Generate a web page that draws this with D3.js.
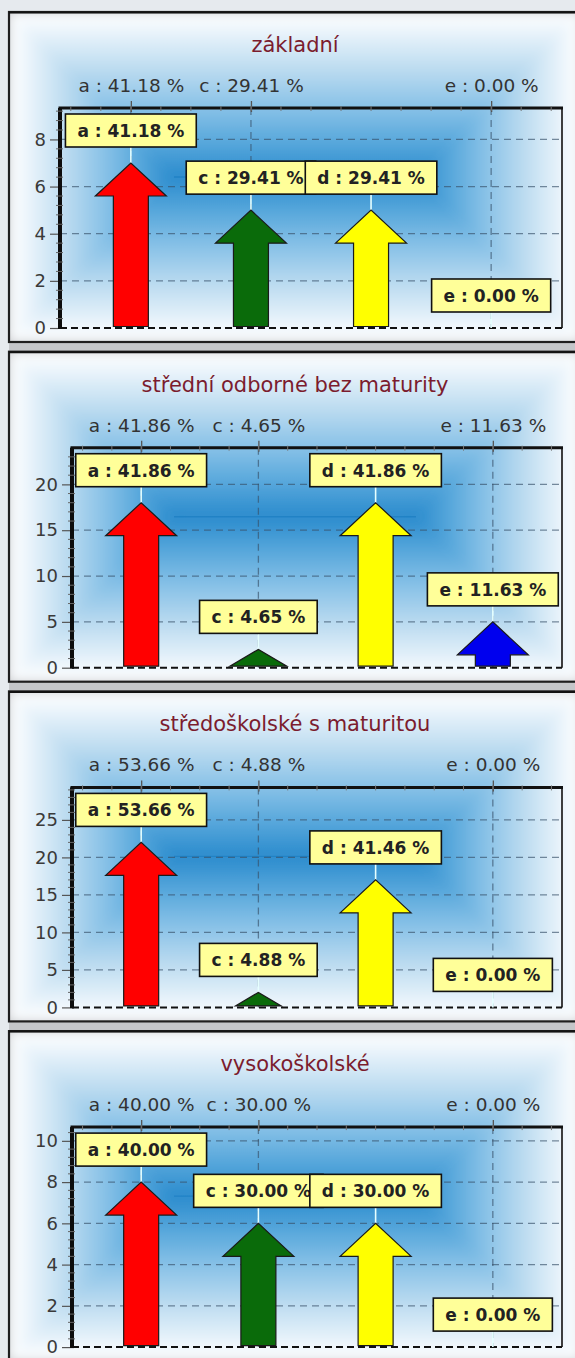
<!DOCTYPE html>
<html>
<head>
<meta charset="utf-8">
<script src="https://cdn.jsdelivr.net/npm/d3@7"></script>
<style>
  html, body { margin: 0; padding: 0; background: #e6eaee; }
  svg { display: block; }
</style>
</head>
<body>
<svg id="chart" width="575" height="1358"></svg>
<script>
// Education groups, one panel each
const panelTitles = [
  "základní",
  "střední odborné bez maturity",
  "středoškolské s maturitou",
  "vysokoškolské"
];
// Answer categories
const categories = ["a", "c", "d", "e"];
// Counts per answer, one row per panel
const countsBasic      = [7, 5, 5, 0];
const countsVocational = [18, 2, 18, 5];
const countsSecondary  = [22, 2, 17, 0];
const countsUniversity = [8, 6, 6, 0];
const panelCounts = [countsBasic, countsVocational, countsSecondary, countsUniversity];
// Arrow colours per answer
const arrowColors = ["#ff0000", "#0a6b0a", "#ffff00", "#0000ee"];
// Answers labelled on the top axis
const topAxisKeys = ["a", "c", "e"];

const svg = d3.select("#chart");
const defs = svg.append("defs");

const FONT = "'DejaVu Sans', Verdana, sans-serif";
const ctx = document.createElement("canvas").getContext("2d");
function textWidth(str, font) { ctx.font = font; return ctx.measureText(str).width; }

// Panel frame geometry
const panelX0 = 9, panelX1 = 581, panelH = 330, firstTop = 12, pitch = 339.7;
// Plot geometry inside a panel
const plotTop = 96, plotBottom = 316, plotRight = 562;

// Gradient stops from frame edge (0) to panel centre (1)
const bgStops = [
  [0, "#ffffff"], [0.1, "#eef6fc"], [0.35, "#bbdbf0"],
  [0.6, "#83bfe6"], [0.8, "#55a6db"], [1, "#2a8bcd"]
];

// soft blend for the background
const blur = defs.append("filter").attr("id", "soft")
  .attr("x", 0).attr("y", 0).attr("width", 1).attr("height", 1);
blur.append("feGaussianBlur").attr("stdDeviation", 6).attr("edgeMode", "duplicate");

// gray band between panels
svg.append("rect").attr("x", panelX0).attr("y", firstTop).attr("width", 575 - panelX0)
  .attr("height", 1358 - firstTop).attr("fill", "#c4c6c9");

panelCounts.forEach((counts, pi) => {
  const y0 = firstTop + pi * pitch;
  const g = svg.append("g").attr("transform", `translate(0,${y0})`);
  const total = d3.sum(counts);
  const pct = counts.map(c => (100 * c / total).toFixed(2) + " %");
  const labelOf = k => `${k} : ${pct[categories.indexOf(k)]}`;

  // ---- background: distance-to-edge blend, built from four trapezoids
  const w = panelX1 - panelX0, hh = panelH / 2, cy = hh;
  const x0 = panelX0, x1 = panelX1, yb = panelH;
  const parts = [
    { pts: [[x0,0],[x1,0],[x1-hh,cy],[x0+hh,cy]], g: [x0,0,x0,cy] },
    { pts: [[x0,yb],[x1,yb],[x1-hh,cy],[x0+hh,cy]], g: [x0,yb,x0,cy] },
    { pts: [[x0,0],[x0+hh,cy],[x0,yb]], g: [x0,0,x0+hh,0] },
    { pts: [[x1,0],[x1-hh,cy],[x1,yb]], g: [x1,0,x1-hh,0] }
  ];
  const bg = g.append("g").attr("filter", "url(#soft)");
  parts.forEach((p, i) => {
    const id = `bg${pi}_${i}`;
    const lg = defs.append("linearGradient").attr("id", id)
      .attr("gradientUnits", "userSpaceOnUse")
      .attr("x1", p.g[0]).attr("y1", p.g[1]).attr("x2", p.g[2]).attr("y2", p.g[3]);
    bgStops.forEach(s => lg.append("stop").attr("offset", s[0]).attr("stop-color", s[1]));
    bg.append("polygon").attr("points", p.pts.map(d => d.join(",")).join(" "))
      .attr("fill", `url(#${id})`).attr("stroke", `url(#${id})`).attr("stroke-width", 0.6);
  });
  // crease where the top and bottom blends meet
  g.append("line").attr("x1", x0 + hh).attr("x2", x1 - hh).attr("y1", cy).attr("y2", cy)
    .attr("stroke", "#1d7fc3").attr("stroke-width", 1.4).attr("opacity", 0.8);
  // frame
  g.append("rect").attr("x", panelX0).attr("y", 0).attr("width", w).attr("height", panelH)
    .attr("fill", "none").attr("stroke", "#1e1e1e").attr("stroke-width", 2.2);
  g.append("line").attr("x1", panelX0).attr("x2", panelX1).attr("y1", 0.5).attr("y2", 0.5)
    .attr("stroke", "#111").attr("stroke-width", 2);

  // ---- title
  g.append("text").attr("x", (panelX0 + panelX1) / 2).attr("y", 40)
    .attr("text-anchor", "middle").attr("font-family", FONT).attr("font-size", 21)
    .attr("fill", "#7b1c2e").text(panelTitles[pi]);

  // ---- scales
  const maxV = d3.max(counts);
  const y = d3.scaleLinear().domain([0, maxV * 4 / 3]).range([plotBottom, plotTop]);
  const yTicks = y.ticks(5);
  const tickFont = `18px ${FONT}`;
  const maxLabelW = d3.max(yTicks, t => textWidth(String(t), tickFont));
  const plotLeft = Math.round(37 + maxLabelW + 12);
  const x = d3.scalePoint().domain(categories).range([plotLeft, plotRight]).padding(0.59);

  // ---- grid
  const grid = g.append("g").attr("stroke", "rgba(55,80,105,0.65)").attr("stroke-width", 1.3)
    .attr("stroke-dasharray", "7,5");
  yTicks.filter(t => t > 0).forEach(t => {
    grid.append("line").attr("x1", plotLeft).attr("x2", plotRight).attr("y1", y(t)).attr("y2", y(t));
  });
  topAxisKeys.forEach(k => {
    grid.append("line").attr("x1", x(k)).attr("x2", x(k)).attr("y1", plotTop).attr("y2", plotBottom);
  });

  // ---- plot borders
  g.append("line").attr("x1", plotRight).attr("x2", plotRight).attr("y1", plotTop).attr("y2", plotBottom)
    .attr("stroke", "#2a2a2a").attr("stroke-width", 1.8);
  g.append("line").attr("x1", plotLeft).attr("x2", plotRight).attr("y1", plotBottom).attr("y2", plotBottom)
    .attr("stroke", "#111").attr("stroke-width", 2).attr("stroke-dasharray", "7,4");
  g.append("line").attr("x1", plotLeft - 1.5).attr("x2", plotRight + 1).attr("y1", plotTop).attr("y2", plotTop)
    .attr("stroke", "#111").attr("stroke-width", 3);
  g.append("line").attr("x1", plotLeft).attr("x2", plotLeft).attr("y1", plotTop).attr("y2", plotBottom + 1)
    .attr("stroke", "#0d0d0d").attr("stroke-width", 4);

  // ---- left axis
  const yAxis = g.append("g").attr("transform", `translate(${plotLeft - 2},0)`)
    .call(d3.axisLeft(y).tickValues(yTicks).tickSize(8).tickPadding(4));
  yAxis.select(".domain").remove();
  yAxis.selectAll(".tick line").attr("stroke", "#555").attr("stroke-width", 1.2);
  yAxis.selectAll(".tick text").attr("font-family", FONT).attr("font-size", 18).attr("fill", "#3a3a3a");
  // minor ticks, five per major step
  const ystep = yTicks[1] - yTicks[0];
  const yMinor = d3.range(0, y.domain()[1], ystep / 5).filter(v => Math.abs(v / ystep - Math.round(v / ystep)) > 1e-6);
  g.append("g").selectAll("line").data(yMinor).join("line")
    .attr("x1", plotLeft - 4).attr("x2", plotLeft + 3).attr("y1", d => y(d)).attr("y2", d => y(d))
    .attr("stroke", "#666").attr("stroke-width", 1);

  // ---- top axis
  const xAxis = g.append("g").attr("transform", `translate(0,${plotTop})`)
    .call(d3.axisTop(x).tickValues(topAxisKeys).tickSize(7).tickPadding(9).tickFormat(labelOf));
  xAxis.select(".domain").remove();
  xAxis.selectAll(".tick line").attr("stroke", "#555").attr("stroke-width", 1.3).attr("y2", -7).attr("y1", 4);
  xAxis.selectAll(".tick text").attr("font-family", FONT).attr("font-size", 18.5).attr("fill", "#333");
  const q = x.step() / 4;
  const xa = x(categories[0]);
  const xMinor = d3.range(Math.ceil((plotLeft - xa) / q), Math.floor((plotRight - xa) / q) + 1)
    .map(k => xa + k * q);
  g.append("g").selectAll("line").data(xMinor).join("line")
    .attr("x1", d => d).attr("x2", d => d).attr("y1", plotTop - 2).attr("y2", plotTop + 3)
    .attr("stroke", "#777").attr("stroke-width", 1);

  // ---- arrows
  const shaftW = 35, headWFull = 71, headHFull = 33;
  const items = categories.map((k, i) => ({ k, v: counts[i], color: arrowColors[i], x: x(k), tip: y(counts[i]) }));

  // leader lines from arrow tips to value boxes
  items.forEach(d => {
    g.append("line").attr("x1", d.x).attr("x2", d.x).attr("y1", d.tip).attr("y2", d.tip - 16)
      .attr("stroke", "#e6ffff").attr("stroke-width", 1.6);
  });

  items.filter(d => d.v > 0).forEach(d => {
    const base = y(0) - 1.5;
    const len = base - d.tip;
    const hh2 = Math.min(headHFull, len);
    const hw = headWFull * Math.min(1, len / 21) / 2;
    const sw = shaftW / 2;
    const path = d3.path();
    path.moveTo(d.x - sw, base);
    path.lineTo(d.x - sw, d.tip + hh2);
    path.lineTo(d.x - hw, d.tip + hh2);
    path.lineTo(d.x, d.tip);
    path.lineTo(d.x + hw, d.tip + hh2);
    path.lineTo(d.x + sw, d.tip + hh2);
    path.lineTo(d.x + sw, base);
    path.closePath();
    g.append("path").attr("d", path.toString()).attr("fill", d.color)
      .attr("stroke", "#1a1a1a").attr("stroke-width", 1.2).attr("stroke-linejoin", "miter");
  });

  // ---- value boxes
  const boxFont = `bold 17px ${FONT}`;
  items.forEach(d => {
    const txt = labelOf(d.k);
    const bw = textWidth(txt, boxFont) + 24, bh = 33;
    const by = d.tip - 16 - bh;
    g.append("rect").attr("x", d.x - bw / 2).attr("y", by).attr("width", bw).attr("height", bh)
      .attr("fill", "#ffff99").attr("stroke", "#111").attr("stroke-width", 1.6);
    g.append("text").attr("x", d.x).attr("y", by + bh / 2 + 6.5).attr("text-anchor", "middle")
      .attr("font-family", FONT).attr("font-weight", "bold").attr("font-size", 17)
      .attr("fill", "#222").text(txt);
  });
});
</script>
</body>
</html>
